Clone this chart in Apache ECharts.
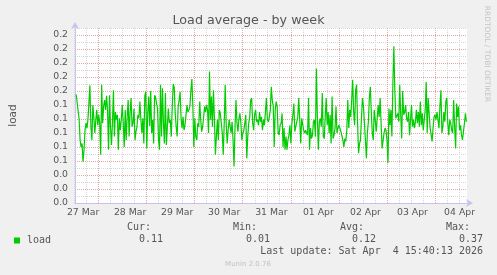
<!DOCTYPE html>
<html><head><meta charset="utf-8">
<script src="https://cdn.jsdelivr.net/npm/echarts@6/dist/echarts.min.js"></script>
<style>html,body{margin:0;padding:0;background:#f0f0f0}#c{width:497px;height:275px}</style>
</head><body><div id="c"></div>
<script>
// ---- data ----
const dayLabels = ['27 Mar','28 Mar','29 Mar','30 Mar','31 Mar','01 Apr','02 Apr','03 Apr','04 Apr'];
const yTickLabels = ['0.0','0.0','0.0','0.1','0.1','0.1','0.1','0.1','0.2','0.2','0.2','0.2','0.2'];
const seriesName = 'load';
const startHour = 8.5;   // first sample, hours after 27 Mar 00:00
const stepHours = 0.5;   // 30-minute samples
const load = [
 .155,.157,.157,.12,.09,.08,.085,.059,.076,.104,.114,.107,.119,.118,.168,.11,.09,.14,.123,.10,.118,.133,.111,.126,.114,.069,.169,.114,.138,.147,.133,.153,.133,.076,.154,.109,.083,.114,.161,.095,.13,.119,.126,.076,.121,.104,.119,.14,.114,.08,.133,.09,.123,.147,.095,.13,.15,.109,.114,.135,.09,.102,.109,.126,.121,.145,.119,
 .10,.121,.085,.153,.159,.078,.128,.152,.11,.16,.10,.119,.085,.154,.151,.142,.135,.09,.076,.169,.095,.164,.114,.085,.157,.083,.109,.135,.114,.119,.095,.138,.17,.165,.128,.109,.095,.138,.147,.159,.121,.107,.123,.104,.111,.109,.14,.13,.133,.138,.161,.177,.138,.08,.121,.095,.09,.114,.109,.145,.119,.102,.109,.123,.138,.13,.14,.133,
 .10,.188,.119,.152,.109,.161,.121,.069,.095,.119,.09,.133,.128,.13,.10,.069,.114,.169,.114,.085,.104,.119,.121,.10,.116,.09,.052,.109,.147,.114,.102,.121,.128,.114,.09,.10,.104,.114,.126,.064,.095,.114,.123,.147,.15,.114,.104,.126,.133,.116,.119,.111,.13,.116,.123,.104,.119,.111,.13,.15,.119,.116,.123,.133,.166,.147,.138,.08,
 .133,.145,.138,.10,.097,.111,.114,.128,.08,.107,.076,.095,.076,.09,.097,.111,.085,.114,.126,.142,.102,.104,.10,.123,.15,.119,.085,.121,.119,.104,.10,.104,.10,.097,.15,.076,.107,.092,.097,.116,.119,.095,.192,.123,.076,.116,.121,.109,.157,.095,.092,.123,.15,.111,.13,.10,.126,.085,.152,.092,.097,.107,.138,.10,.107,.111,.107,.102,
 .10,.09,.08,.092,.088,.104,.147,.107,.133,.123,.147,.176,.13,.111,.161,.169,.114,.071,.085,.09,.123,.15,.138,.114,.09,.064,.10,.116,.15,.166,.13,.10,.09,.133,.119,.102,.104,.14,.123,.15,.114,.078,.076,.10,.107,.104,.09,.057,.135,.111,.133,.095,.171,.224,.161,.121,.119,.128,.116,.169,.126,.092,.16,.126,.13,.14,.121,.116,
 .13,.097,.119,.14,.109,.119,.107,.116,.133,.114,.13,.109,.145,.111,.128,.104,.119,.133,.173,.10,.15,.128,.107,.109,.088,.107,.123,.126,.119,.13,.119,.107,.138,.161,.10,.109,.13,.116,.145,.15,.114,.097,.119,.114,.104,.10,.147,.109,.078,.142,.123,.138,.104,.111,.097,.09,.102,.114,.128,.116
];
const statNames = ['Cur:','Min:','Avg:','Max:'];
const statValues = ['0.11','0.01','0.12','0.37'];
const lastUpdate = 'Last update: Sat Apr  4 15:40:13 2026';
const titleText = 'Load average - by week';
const sideText = 'RRDTOOL / TOBI OETIKER';
const footerText = 'Munin 2.0.76';

// ---- derived ----
const xMin = 7.9, xMax = 207.8;            // visible time window (hours after 27 Mar 00:00)
const gridL = 66, gridR = 30, gridT = 28, gridB = 72;
const plotW = 497 - gridL - gridR;
const pxPerHour = plotW / (xMax - xMin);
const firstGridHour = Math.ceil(xMin / 6) * 6, lastGridHour = Math.floor(xMax / 6) * 6;
const labelHours = dayLabels.map((_, i) => 12 + 24 * i);
const lineData = load.map((v, i) => [startHour + i * stepHours, v]);
// colour cycle for the 6-hour grid, red at midnight
const gridCycle = [];
for (let h = firstGridHour; h < firstGridHour + 24; h += 6) gridCycle.push(h % 24 === 0 ? 'M' : 'm');

const txt = '#555';
const sans = 'DejaVu Sans';
const mono = 'DejaVu Sans Mono';
const axisCol = '#c4c4ee';
const red = '#e6a3a3', gray = '#d6d6d6';

function gtext(x, y, text, opt) {
  return Object.assign({ type: 'text', x: x, y: y, silent: true,
    style: Object.assign({ text: text, font: '10px "' + mono + '"', fill: txt,
      align: 'left', verticalAlign: 'middle', textAlign: 'left', textVerticalAlign: 'middle' }, opt.style || {}) },
    opt.el || {});
}
const statLeft = [151, 257, 364, 470];
const valRight = [163, 270, 376, 483];
const graphics = [];
statNames.forEach((s, i) => {
  graphics.push(gtext(statLeft[i], 227.5, s, { style: { align: 'right', textAlign: 'right' } }));
  graphics.push(gtext(valRight[i], 239.5, statValues[i], { style: { align: 'right', textAlign: 'right' } }));
});
graphics.push(gtext(483, 251.5, lastUpdate, { style: { align: 'right', textAlign: 'right' } }));
graphics.push(gtext(248, 264, footerText, { style: { align: 'center', textAlign: 'center', font: '7px "' + sans + '"', fill: '#c2c2c2' } }));
graphics.push(gtext(487, 54, sideText, { el: { rotation: -Math.PI / 2 }, style: { align: 'center', textAlign: 'center', font: '7.5px "' + sans + '"', fill: '#c4c4c4' } }));

const chart = echarts.init(document.getElementById('c'), null, { renderer: 'canvas' });
chart.setOption({
  backgroundColor: '#f0f0f0',
  animation: false,
  title: { text: titleText, left: 'center', top: 9,
    textStyle: { fontFamily: sans, fontSize: 12.7, fontWeight: 'normal', color: txt } },
  legend: { data: [seriesName], left: 14, top: 235.5, padding: 0, icon: 'rect', itemWidth: 6, itemHeight: 6,
    selectedMode: false,
    textStyle: { fontFamily: mono, fontSize: 10, color: txt, padding: [0, 0, 0, 2] } },
  grid: [
    { left: gridL, right: gridR, top: gridT, bottom: gridB, show: true, backgroundColor: '#ffffff', borderWidth: 0 },
    // helper grid spanning exactly the 6-hourly grid lines, for the vertical grid
    { left: gridL + (firstGridHour - xMin) * pxPerHour, right: gridR + (xMax - lastGridHour) * pxPerHour,
      top: gridT, bottom: gridB, show: false }
  ],
  xAxis: [{
    type: 'value', min: xMin, max: xMax, gridIndex: 0,
    axisLine: { show: true, lineStyle: { color: axisCol, width: 1 }, symbol: ['none', 'arrow'], symbolSize: [6, 7], symbolOffset: [0, 6] },
    axisTick: { show: false },
    splitLine: { show: false },
    axisLabel: { customValues: labelHours, formatter: v => dayLabels[Math.round((v - 12) / 24)],
      fontFamily: sans, fontSize: 9.3, color: txt, margin: 5 }
  }, {
    type: 'value', gridIndex: 1, min: firstGridHour, max: lastGridHour, interval: 6,
    axisLine: { show: false }, axisTick: { show: false }, axisLabel: { show: false },
    splitLine: { show: true, lineStyle: { color: gridCycle.map(c => c === 'M' ? red : gray), type: [1, 1], width: 1 } }
  }],
  yAxis: [{
    type: 'value', min: 0, max: 0.25, interval: 0.01, gridIndex: 0,
    name: seriesName, nameLocation: 'middle', nameRotate: 90, nameGap: 56,
    nameTextStyle: { fontFamily: sans, fontSize: 10.5, color: txt },
    axisLine: { show: true, lineStyle: { color: axisCol, width: 1 }, symbol: ['none', 'arrow'], symbolSize: [6, 7], symbolOffset: [0, 6] },
    axisTick: { show: false },
    splitLine: { show: true, lineStyle: { color: [red, gray], type: [1, 1], width: 1 } },
    axisLabel: { fontFamily: sans, fontSize: 9.3, color: txt, margin: 7,
      formatter: v => { const n = Math.round(v * 100); return n % 2 === 0 && yTickLabels[n / 2] !== undefined ? yTickLabels[n / 2] : ''; } }
  }, {
    type: 'value', gridIndex: 1, min: 0, max: 1, show: false
  }],
  series: [
    { type: 'line', name: seriesName, data: lineData, xAxisIndex: 0, yAxisIndex: 0, showSymbol: false, symbol: 'none', z: 3,
      color: '#00cc00', itemStyle: { color: '#00cc00' }, lineStyle: { color: '#00cc00', width: 1.2 } }
  ],
  graphic: graphics
});
</script></body></html>
